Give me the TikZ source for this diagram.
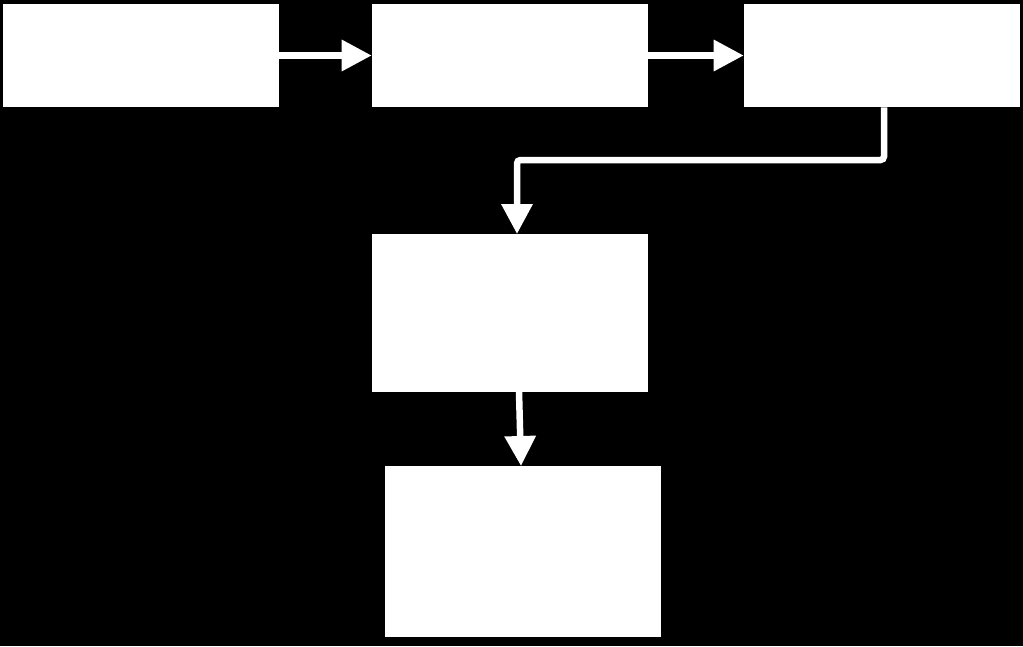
\documentclass[tikz,border=0pt]{standalone}
\usetikzlibrary{arrows.meta}
\begin{document}
\begin{tikzpicture}[x=0.02cm, y=-0.02cm,
        box/.style={draw=none, fill=white, minimum width=5.52cm, inner sep=0pt},
        link/.style={draw=white, line width=0.13cm, -{Triangle[width=0.6cm, length=0.6cm]}}]
    \fill[black] (0,0) rectangle (1023,646);

    \node[box, minimum height=2.06cm] (first) at (141, 55.5) {};
    \node[box, minimum height=2.06cm] (second) at (510, 55.5) {};
    \node[box, minimum height=2.06cm] (third) at (882, 55.5) {};
    \node[box, minimum height=3.16cm] (fourth) at (510, 313) {};
    \node[box, minimum height=3.42cm] (fifth) at (523, 551.5) {};

    \path[link] (first.east) -- (second.west);
    \path[link] (second.east) -- (third.west);
    \path[link, rounded corners=2pt] (third.south -| 884, 0) |- (517, 160) -- (517, 234);
    \path[link] (519, 392) -- (521, 466);
\end{tikzpicture}
\end{document}
